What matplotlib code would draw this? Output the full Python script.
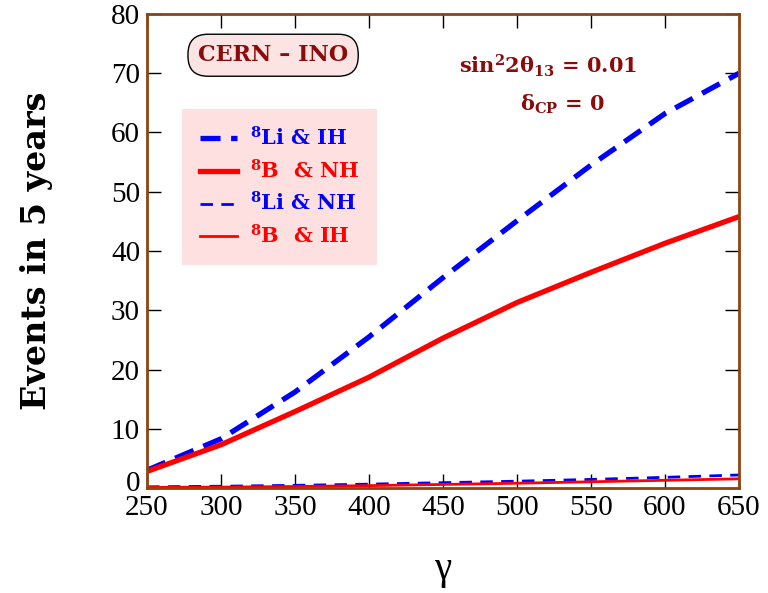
import numpy as np
import matplotlib
matplotlib.use("Agg")
import matplotlib.pyplot as plt
import matplotlib.transforms as mtransforms

plt.rcParams["font.family"] = ["Liberation Serif", "DejaVu Serif"]
plt.rcParams["mathtext.fontset"] = "custom"
plt.rcParams["mathtext.rm"] = "DejaVu Serif:bold"
plt.rcParams["mathtext.it"] = "DejaVu Serif:bold"
plt.rcParams["mathtext.bf"] = "DejaVu Serif:bold"
plt.rcParams["mathtext.default"] = "rm"

gamma = [250, 300, 350, 400, 450, 500, 550, 600, 650]
li_ih = [3.0, 8.3, 16.2, 25.5, 35.5, 45.1, 54.5, 63.2, 70.0]
b_nh = [2.8, 7.3, 12.9, 18.7, 25.3, 31.3, 36.4, 41.3, 45.8]
li_nh = [0.2, 0.3, 0.45, 0.65, 0.9, 1.15, 1.45, 1.8, 2.2]
b_ih = [0.1, 0.15, 0.25, 0.4, 0.6, 0.8, 1.05, 1.3, 1.55]

frame = "#8B4513"
dark = "#8B0A0A"
bold = dict(family="DejaVu Serif", fontweight="bold")

fig = plt.figure(figsize=(7.68, 5.93), dpi=100)
ax = fig.add_axes([147 / 768, 1 - 488 / 593, 592 / 768, 474 / 593])

ax.plot(gamma, li_ih, color="#0000ff", lw=3.8, ls=(0, (3.8, 2.0)), label=r"$^{8}$Li & IH")
ax.plot(gamma, b_nh, color="#ff0000", lw=3.8, label=r"$^{8}$B  & NH")
ax.plot(gamma, li_nh, color="#0000ff", lw=2.0, ls=(0, (4.5, 3.0)), label=r"$^{8}$Li & NH")
ax.plot(gamma, b_ih, color="#ff0000", lw=2.0, label=r"$^{8}$B  & IH")

ax.set_xlim(250, 650)
ax.set_ylim(0, 80)
ax.set_xticks(np.arange(250, 651, 50))
ax.set_yticks(np.arange(0, 81, 10))
ax.tick_params(direction="in", length=10, width=1, labelsize=21, pad=5,
               top=True, right=True)
for s in ax.spines.values():
    s.set_color(frame)
    s.set_linewidth(2)

# lift the "0" label a little, as in the original
lbl0 = ax.get_yticklabels()[0]
lbl0.set_transform(lbl0.get_transform() + mtransforms.ScaledTranslation(0, 5 / 72, fig.dpi_scale_trans))

ax.set_ylabel("Events in 5 years", fontsize=24, labelpad=42, **bold)
ax.set_xlabel("γ", fontsize=28, labelpad=22)

leg = ax.legend(loc="upper left", bbox_to_anchor=(0.059, 0.80),
                prop=dict(family="DejaVu Serif", weight="bold", size=15),
                frameon=True, fancybox=False, handlelength=1.8, handletextpad=0.6,
                labelspacing=0.45, borderpad=0.85, borderaxespad=0)
leg.get_frame().set_facecolor("#ffe0e0")
leg.get_frame().set_edgecolor("none")
leg.get_frame().set_alpha(1)
for t, c in zip(leg.get_texts(), ["#0000ff", "#ff0000", "#0000ff", "#ff0000"]):
    t.set_color(c)

ax.text(0.213, 0.913, "CERN – INO", transform=ax.transAxes, ha="center", va="center",
        fontsize=16, color=dark,
        bbox=dict(boxstyle="round,pad=0.45,rounding_size=0.9", fc="#fde4e4", ec="black", lw=1),
        **bold)
ax.text(0.677, 0.890, r"$sin^22\theta_{13}$ = 0.01", transform=ax.transAxes, ha="center",
        va="center", fontsize=15, color=dark, **bold)
ax.text(0.701, 0.810, r"$\delta_{CP}$ = 0", transform=ax.transAxes, ha="center",
        va="center", fontsize=15, color=dark, **bold)

fig.savefig("out.png", dpi=100)
